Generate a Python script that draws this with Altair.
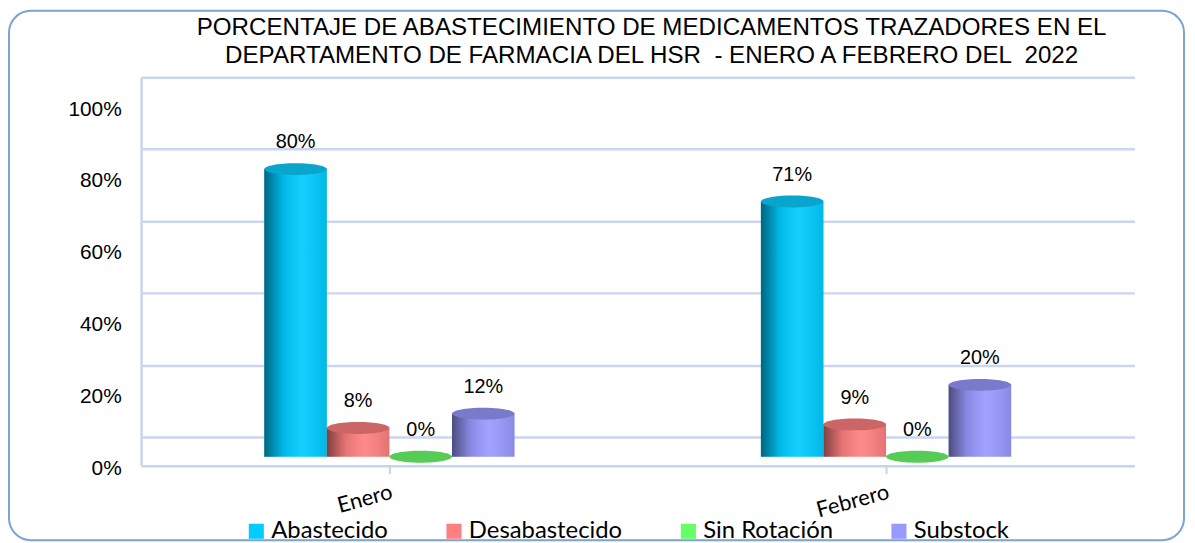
import altair as alt
import pandas as pd

meses = ["Enero", "Febrero"]
series = ["Abastecido", "Desabastecido", "Sin Rotación", "Substock"]
abastecido = [0.80, 0.71]
desabastecido = [0.08, 0.09]
sin_rotacion = [0.00, 0.00]
substock = [0.12, 0.20]
y_ticks = [0, 0.2, 0.4, 0.6, 0.8, 1.0]

body_colors = ["#00ccff", "#ff8080", "#66ff66", "#9999ff"]
top_colors = ["#0aa5cc", "#cc6666", "#55cc55", "#7a7acc"]

rows = []
for serie, vals in zip(series, [abastecido, desabastecido, sin_rotacion, substock]):
    for mes, v in zip(meses, vals):
        rows.append({"mes": mes, "serie": serie, "valor": v})
df = pd.DataFrame(rows)

PLOT_W, PLOT_H = 1000, 391
BAR_W = 63
step = PLOT_W / len(meses)
pad_inner = 1 - BAR_W * len(series) / step
pad_outer = pad_inner / 2

x_enc = alt.X("mes:N", sort=meses, scale=alt.Scale(paddingInner=pad_inner, paddingOuter=pad_outer),
              axis=alt.Axis(title=None, labelAngle=345, labelAlign="right", labelBaseline="top",
                            labelPadding=8, tickSize=8, tickColor="#c6d4ee", tickWidth=2,
                            domainColor="#c6d4ee", domainWidth=2.5,
                            labelFont="Lato", labelFontSize=22, labelColor="#000000"))
xo_enc = alt.XOffset("serie:N", sort=series, scale=alt.Scale(paddingInner=0, paddingOuter=0))
y_scale = alt.Scale(domain=[-0.0249, 1.0552], nice=False, zero=False)
y_enc = alt.Y("valor:Q", scale=y_scale,
              axis=alt.Axis(title=None, values=y_ticks, format=".0%", grid=True,
                            gridColor="#c9d6ee", gridWidth=2.5, ticks=False,
                            tickOffset=-20, labelOffset=32, labelPadding=20,
                            domainColor="#c9d6ee", domainWidth=2.5,
                            labelFont="Liberation Sans", labelFontSize=21, labelColor="#000000"))

base = alt.Chart(df)

bars = base.mark_bar().encode(
    x=x_enc, xOffset=xo_enc, y=y_enc, y2=alt.datum(0),
    color=alt.Color("serie:N", sort=series,
                    scale=alt.Scale(domain=series, range=body_colors),
                    legend=alt.Legend(title=None, orient="none", direction="horizontal",
                                      legendX=104, legendY=445, columnPadding=54,
                                      symbolType="square", symbolSize=230, symbolStrokeWidth=0,
                                      symbolOpacity=1, labelFont="Lato", labelFontSize=24,
                                      labelColor="#000000", labelOffset=3)),
)

shade = base.mark_bar(fill=alt.Gradient(
    gradient="linear", x1=0, x2=1, y1=0, y2=0,
    stops=[alt.GradientStop(color="rgba(0,0,0,0.5)", offset=0),
           alt.GradientStop(color="rgba(0,0,0,0.1)", offset=0.3),
           alt.GradientStop(color="rgba(255,255,255,0.08)", offset=0.6),
           alt.GradientStop(color="rgba(0,0,0,0.1)", offset=1)])).encode(
    x=x_enc, xOffset=xo_enc, y=y_enc, y2=alt.datum(0),
)

ellipse = "M-1,0A1,0.19,0,1,0,1,0A1,0.19,0,1,0,-1,0Z"
tops = base.mark_point(filled=True, shape=ellipse, size=BAR_W * BAR_W, opacity=1).encode(
    x=x_enc, xOffset=xo_enc, y=y_enc,
    fill=alt.Fill("serie:N", sort=series, scale=alt.Scale(domain=series, range=top_colors), legend=None),
)

labels = base.mark_text(dy=-27, fontSize=20, font="Liberation Sans", color="#000000").encode(
    x=x_enc, xOffset=xo_enc, y=y_enc,
    text=alt.Text("valor:Q", format=".0%"),
)

border = alt.Chart(alt.Data(values=[{}])).mark_rect(
    fill="transparent", stroke="#7ba3d6", strokeWidth=2, cornerRadius=22).encode(
    x=alt.value(-133), x2=alt.value(1050), y=alt.value(-67), y2=alt.value(466),
)

chart = alt.layer(border, bars, shade, tops, labels).resolve_scale(fill="independent").properties(
    width=PLOT_W, height=PLOT_H,
    autosize=alt.AutoSizeParams(type="none"),
    padding={"left": 134, "top": 68, "right": 53, "bottom": 76},
    title=alt.TitleParams(
        ["PORCENTAJE DE ABASTECIMIENTO DE MEDICAMENTOS TRAZADORES EN EL",
         "DEPARTAMENTO DE FARMACIA DEL HSR \u00a0- ENERO A FEBRERO DEL \u00a02022"],
        anchor="middle", dx=14, dy=65, offset=6, font="Liberation Sans", fontSize=24.3,
        fontWeight="normal", color="#000000", lineHeight=28),
).configure_view(stroke=None)

chart.save("out.html", embed_options={"renderer": "svg", "actions": False})
